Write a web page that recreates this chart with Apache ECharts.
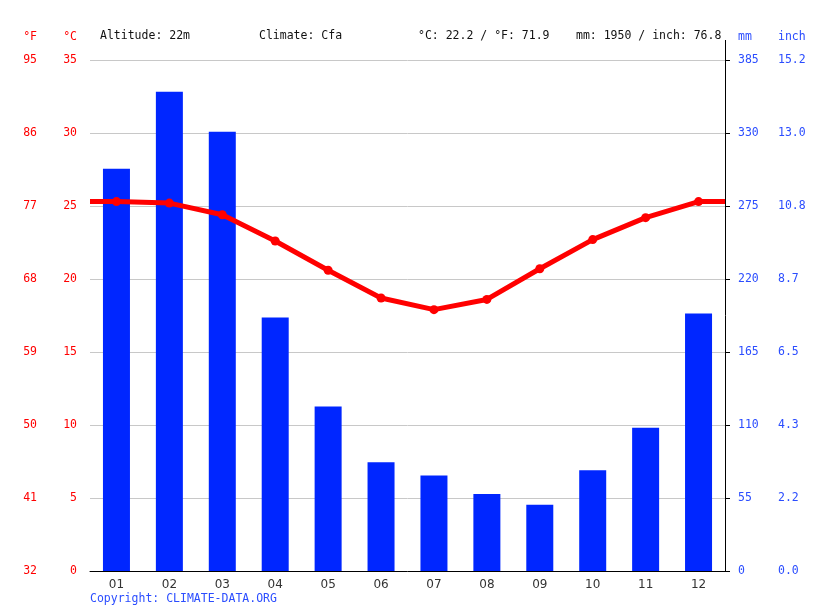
<!DOCTYPE html>
<html>
<head>
<meta charset="utf-8">
<script src="https://cdn.jsdelivr.net/npm/echarts@6/dist/echarts.min.js"></script>
<style>
    html, body { margin: 0; padding: 0; background: #fff; }
    #chart { width: 815px; height: 611px; }
</style>
</head>
<body>
<div id="chart"></div>
<script>
// 数据
var months = ['01', '02', '03', '04', '05', '06', '07', '08', '09', '10', '11', '12'];
var precipMm = [303, 361, 331, 191, 124, 82, 72, 58, 50, 76, 108, 194];
var tempC = [25.3, 25.2, 24.4, 22.6, 20.6, 18.7, 17.9, 18.6, 20.7, 22.7, 24.2, 25.3];
var headerTexts = ['Altitude: 22m', 'Climate: Cfa', '°C: 22.2 / °F: 71.9', 'mm: 1950 / inch: 76.8'];
var headerX = [100, 259, 418, 576];

(function () {
    var myChart = echarts.init(document.getElementById('chart'));
    var mono = 'DejaVu Sans Mono';
    var red = '#ff0000';
    var blue = '#0026ff';
    var blueText = '#2b4dff';

    // 温度线两端延伸到图表边缘
    var lineData = [[0, tempC[0]]];
    tempC.forEach(function (v, i) {
        lineData.push([i + 0.5, v]);
    });
    lineData.push([12, tempC[tempC.length - 1]]);
    lineData = lineData.map(function (d, i) {
        var edge = i === 0 || i === lineData.length - 1;
        return { value: d, symbolSize: edge ? 0 : 9 };
    });

    var graphics = headerTexts.map(function (t, i) {
        return {
            type: 'text', left: headerX[i], top: 30,
            style: { text: t, font: '11.5px "DejaVu Sans Mono"', fill: '#111' }
        };
    });
    graphics.push({
        type: 'text', left: 90, top: 593,
        style: { text: 'Copyright: CLIMATE-DATA.ORG', font: '11.5px "DejaVu Sans Mono"', fill: blueText }
    });
    graphics.push({
        type: 'line', shape: { x1: 725.5, y1: 40, x2: 725.5, y2: 60 },
        style: { stroke: '#000', lineWidth: 1 }
    });

    var option = {
        animation: false,
        backgroundColor: '#fff',
        graphic: graphics,
        grid: { left: 90, right: 90, top: 60, bottom: 40 },
        xAxis: [
            {
                type: 'category',
                data: months,
                axisLine: { lineStyle: { color: '#000' } },
                axisTick: { length: 5, lineStyle: { color: '#000' } },
                axisLabel: { color: '#333', fontFamily: 'DejaVu Sans', fontSize: 12, margin: 8 }
            },
            { type: 'value', min: 0, max: 12, show: false }
        ],
        yAxis: [
            {
                // °C
                type: 'value', position: 'left', min: 0, max: 35, interval: 5,
                name: '°C', nameGap: 17,
                nameTextStyle: { color: red, fontFamily: mono, fontSize: 11.5, align: 'right', padding: [0, 13, 0, 0] },
                axisLine: { show: false }, axisTick: { show: false },
                axisLabel: { color: red, fontFamily: mono, fontSize: 11.5, margin: 13 },
                splitLine: { lineStyle: { color: '#c8c8c8' } }
            },
            {
                // °F
                type: 'value', position: 'left', offset: 40, min: 0, max: 35, interval: 5,
                name: '°F', nameGap: 17,
                nameTextStyle: { color: red, fontFamily: mono, fontSize: 11.5, align: 'right', padding: [0, 13, 0, 0] },
                axisLine: { show: false }, axisTick: { show: false },
                axisLabel: {
                    color: red, fontFamily: mono, fontSize: 11.5, margin: 13,
                    formatter: function (v) { return Math.round(v * 9 / 5 + 32); }
                },
                splitLine: { show: false }
            },
            {
                // mm
                type: 'value', position: 'right', min: 0, max: 385, interval: 55,
                name: 'mm', nameGap: 17,
                nameTextStyle: { color: blueText, fontFamily: mono, fontSize: 11.5, align: 'left', padding: [0, 0, 0, 13] },
                axisLine: { show: true, lineStyle: { color: '#000' } },
                axisTick: { show: true, length: 5, lineStyle: { color: '#000' } },
                axisLabel: { color: blueText, fontFamily: mono, fontSize: 11.5, margin: 13 },
                splitLine: { show: false }
            },
            {
                // inch
                type: 'value', position: 'right', offset: 40, min: 0, max: 385, interval: 55,
                name: 'inch', nameGap: 17,
                nameTextStyle: { color: blueText, fontFamily: mono, fontSize: 11.5, align: 'left', padding: [0, 0, 0, 13] },
                axisLine: { show: false }, axisTick: { show: false },
                axisLabel: {
                    color: blueText, fontFamily: mono, fontSize: 11.5, margin: 13,
                    formatter: function (v) { return (v / 25.4).toFixed(1); }
                },
                splitLine: { show: false }
            }
        ],
        series: [
            {
                name: 'mm',
                type: 'bar',
                xAxisIndex: 0,
                yAxisIndex: 2,
                data: precipMm,
                barWidth: 27,
                itemStyle: { color: blue }
            },
            {
                name: '°C',
                type: 'line',
                xAxisIndex: 1,
                yAxisIndex: 0,
                data: lineData,
                symbol: 'circle',
                lineStyle: { color: red, width: 5 },
                itemStyle: { color: red },
                z: 5
            }
        ]
    };
    myChart.setOption(option);
    window.addEventListener('resize', function () {
        myChart.resize();
    });
})();
</script>
</body>
</html>
